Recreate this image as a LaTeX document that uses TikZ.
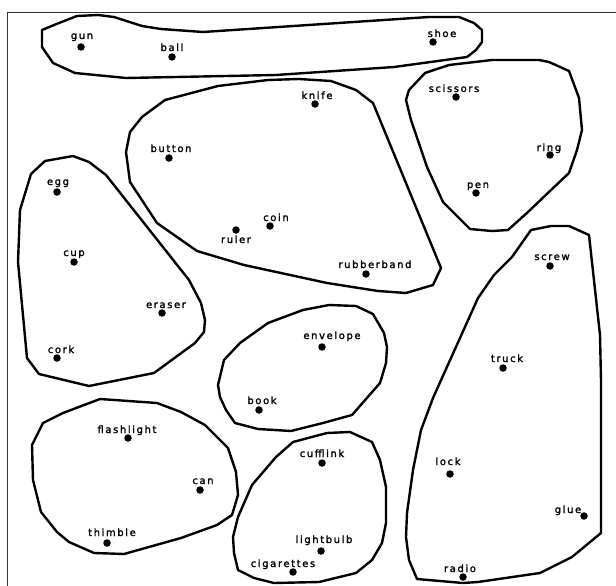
\documentclass[tikz,border=0pt]{standalone}
\usepackage{fontspec}
\setmainfont{DejaVu Sans}[LetterSpace=16,FakeBold=1.6]
\begin{document}
\begin{tikzpicture}[x=1pt,y=-1pt,
  blob/.style={draw=black,line width=2.4pt,line join=round},
  frame/.style={draw=black!80,line width=0.9pt},
  dot/.style={circle,fill=black,inner sep=0pt,minimum size=7.5pt},
  lbl/.style={anchor=base,inner sep=0pt,font=\fontsize{10}{11}\selectfont}]
\useasboundingbox (0,0) rectangle (616,586);
\fill[white] (0,0) rectangle (616,586);
% frame
\draw[frame] (616,12.5) -- (7,12.5) -- (7,586);
% clusters
\draw[blob] (42,30) -- (59,23) -- (77,16) -- (98,15) -- (114,17) -- (142,26) -- (161,29) -- (203,32) -- (429,17) -- (459,17) -- (474,23) -- (482,30) -- (482,42) -- (476,50) -- (467,57) -- (394,67) -- (276,75) -- (126,78) -- (75,73) -- (53,63) -- (42,47) -- cycle;
\draw[blob] (165,100) -- (218,86) -- (268,80) -- (299,79) -- (331,81) -- (356,90) -- (373,103) -- (441,268) -- (433,285) -- (406,293) -- (378,291) -- (327,283) -- (244,265) -- (197,251) -- (157,223) -- (130,182) -- (126,152) -- (130,132) -- (142,117) -- cycle;
\draw[blob] (406,100) -- (409,90) -- (425,73) -- (449,65) -- (492,60) -- (539,60) -- (549,62) -- (569,71) -- (579,98) -- (582,130) -- (577,150) -- (569,173) -- (551,190) -- (528,212) -- (508,230) -- (492,231) -- (470,229) -- (443,202) -- (427,167) -- (411,120) -- cycle;
\draw[blob] (31,174) -- (45,161) -- (73,156) -- (89,162) -- (106,175) -- (189,280) -- (201,303) -- (205,320) -- (204,332) -- (195,343) -- (154,373) -- (89,386) -- (39,374) -- (27,358) -- (18,262) -- (20,210) -- cycle;
\draw[blob] (268,323) -- (303,310) -- (329,305) -- (356,306) -- (373,314) -- (384,333) -- (387,347) -- (386,363) -- (380,383) -- (366,399) -- (352,415) -- (323,423) -- (291,431) -- (258,429) -- (235,423) -- (226,410) -- (220,397) -- (218,385) -- (224,360) -- (240,343) -- cycle;
\draw[blob] (43,423) -- (63,413) -- (100,399) -- (157,403) -- (181,412) -- (205,425) -- (228,448) -- (236,472) -- (238,495) -- (232,515) -- (217,525) -- (181,538) -- (124,554) -- (94,553) -- (69,542) -- (57,532) -- (41,512) -- (33,480) -- (32,445) -- cycle;
\draw[blob] (293,442) -- (327,433) -- (350,432) -- (372,442) -- (380,460) -- (386,487) -- (386,523) -- (382,543) -- (372,560) -- (356,573) -- (319,582) -- (274,583) -- (254,578) -- (238,570) -- (234,553) -- (233,537) -- (238,517) -- (252,485) -- (276,457) -- cycle;
\draw[blob] (531,230) -- (551,226) -- (569,226) -- (589,235) -- (600,335) -- (601,380) -- (601,533) -- (572,557) -- (540,573) -- (478,582) -- (463,583) -- (417,579) -- (409,560) -- (406,537) -- (407,513) -- (413,470) -- (421,430) -- (433,398) -- (478,298) -- (494,275) -- (512,257) -- cycle;
% dots
\node[dot] (gun) at (81,47) {};
\node[dot] (ball) at (172,57) {};
\node[dot] (shoe) at (433,42) {};
\node[dot] (knife) at (315,104) {};
\node[dot] (button) at (169,158) {};
\node[dot] (scissors) at (456,97) {};
\node[dot] (ring) at (550,155) {};
\node[dot] (pen) at (476,193) {};
\node[dot] (egg) at (57,192) {};
\node[dot] (cup) at (74,262) {};
\node[dot] (coin) at (270,226) {};
\node[dot] (ruler) at (236,230) {};
\node[dot] (rubberband) at (366,274) {};
\node[dot] (screw) at (550,266) {};
\node[dot] (eraser) at (162,313) {};
\node[dot] (envelope) at (322,347) {};
\node[dot] (cork) at (57,358) {};
\node[dot] (truck) at (503,368) {};
\node[dot] (book) at (259,410) {};
\node[dot] (flashlight) at (128,438) {};
\node[dot] (cufflink) at (322,463) {};
\node[dot] (lock) at (450,474) {};
\node[dot] (can) at (200,490) {};
\node[dot] (glue) at (584,516) {};
\node[dot] (thimble) at (107,543) {};
\node[dot] (lightbulb) at (321,551) {};
\node[dot] (cigarettes) at (293,572) {};
\node[dot] (radio) at (463,577) {};
% labels
\node[lbl] (t-gun) at (82,39) {gun};
\node[lbl] (t-ball) at (172,51) {ball};
\node[lbl] (t-shoe) at (442,37) {shoe};
\node[lbl] (t-knife) at (317,99) {knife};
\node[lbl] (t-button) at (171,152) {button};
\node[lbl] (t-scissors) at (454,92) {scissors};
\node[lbl] (t-ring) at (549,151) {ring};
\node[lbl] (t-pen) at (478,188) {pen};
\node[lbl] (t-egg) at (58,185) {egg};
\node[lbl] (t-cup) at (74,256) {cup};
\node[lbl] (t-coin) at (276,221) {coin};
\node[lbl] (t-ruler) at (236,243) {ruler};
\node[lbl] (t-rubberband) at (375,268) {rubberband};
\node[lbl] (t-screw) at (552,260) {screw};
\node[lbl] (t-eraser) at (166,308) {eraser};
\node[lbl] (t-envelope) at (332,339) {envelope};
\node[lbl] (t-cork) at (61,353) {cork};
\node[lbl] (t-truck) at (507,362) {truck};
\node[lbl] (t-book) at (262,404) {book};
\node[lbl] (t-flashlight) at (127,433) {flashlight};
\node[lbl] (t-cufflink) at (322,457) {cufflink};
\node[lbl] (t-lock) at (448,465) {lock};
\node[lbl] (t-can) at (203,484) {can};
\node[lbl] (t-glue) at (568,513) {glue};
\node[lbl] (t-thimble) at (112,536) {thimble};
\node[lbl] (t-lightbulb) at (324,543) {lightbulb};
\node[lbl] (t-cigarettes) at (283,567) {cigarettes};
\node[lbl] (t-radio) at (460,572) {radio};
\end{tikzpicture}
\end{document}
